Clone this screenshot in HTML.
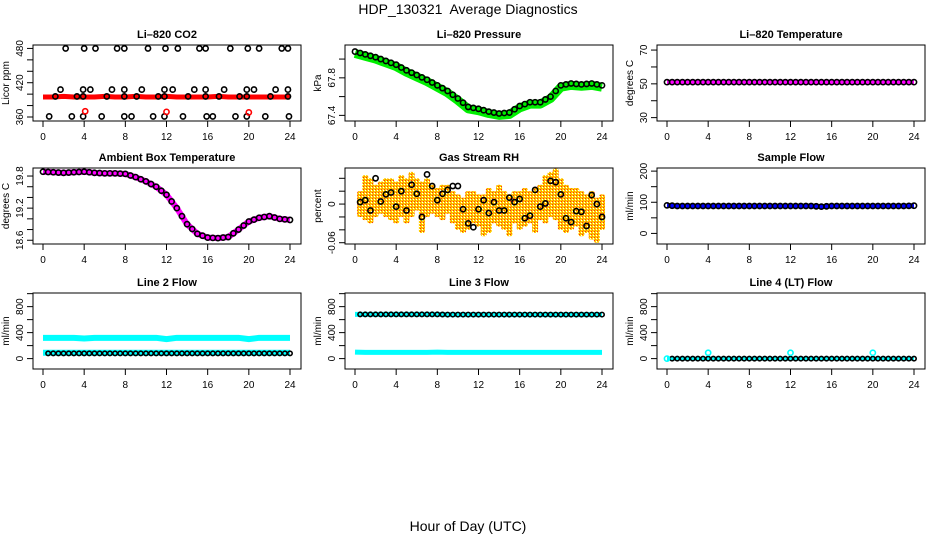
<!DOCTYPE html>
<html><head><meta charset="utf-8"><style>
body{margin:0;background:#fff}
svg{display:block;font-family:"Liberation Sans",Arial,sans-serif}
</style></head><body>
<svg id="c" width="936" height="540" viewBox="0 0 936 540">
<defs>
<pattern id="speck" width="3" height="3" patternUnits="userSpaceOnUse">
<rect width="3" height="3" fill="#ffd000"/>
<rect x="0" y="0" width="1" height="1" fill="#f22"/>
<rect x="2" y="1" width="1" height="1" fill="#fff"/>
<rect x="1" y="2" width="1" height="1" fill="#f80"/>
</pattern>
</defs>
<text x="468" y="14" text-anchor="middle" font-size="14" style="white-space:pre">HDP_130321  Average Diagnostics</text>
<text x="468" y="531" text-anchor="middle" font-size="14">Hour of Day (UTC)</text>
</svg>
<script>
const hours=[0,1,2,3,4,5,6,7,8,9,10,11,12,13,14,15,16,17,18,19,20,21,22,23,24];
const xTicks=[0,4,8,12,16,20,24];
// CO2
const co2TopX=[2.2,4.0,5.1,7.2,7.9,10.2,11.9,13.1,15.2,15.8,18.2,19.9,21.0,23.2,23.8];
const co2MidX=[1.7,3.9,4.6,6.7,7.9,9.6,11.8,12.6,14.7,15.8,17.6,19.8,20.5,22.6,23.8];
const co2LowX=[0.6,2.8,3.9,5.7,7.9,8.6,10.7,11.8,13.6,15.9,16.5,18.7,19.8,21.6,23.9];
const co2BandX=[1.2,3.3,3.9,6.2,7.9,9.1,11.2,11.8,14.1,15.8,17.1,19.1,19.8,22.1,23.8];
const co2RedX=[4.1,12.0,20.0];
const co2Red=[370,369,368];
const co2Band=[395,395,396,395,395,395,396,395,395,396,395,395,396,395,395,395,395,396,395,395,395,395,395,395,395];
// Pressure
const pres=[68.08,68.05,68.02,67.98,67.94,67.88,67.83,67.78,67.72,67.66,67.58,67.49,67.47,67.44,67.42,67.43,67.5,67.54,67.54,67.6,67.72,67.74,67.73,67.74,67.72];
// Temperature
const temp=[51,51,51,51,51,51,51,51,51,51,51,51,51,51,51,51,51,51,51,51,51,51,51,51,51];
// Ambient
const amb=[19.88,19.87,19.86,19.87,19.88,19.86,19.85,19.85,19.84,19.78,19.7,19.6,19.45,19.2,18.9,18.72,18.65,18.64,18.66,18.8,18.95,19.02,19.05,19.0,18.98];
// RH
const rhX=[0.5,1,1.5,2,2.5,3,3.5,4,4.5,5,5.5,6,6.5,7,7.5,8,8.5,9,9.5,10,10.5,11,11.5,12,12.5,13,13.5,14,14.5,15,15.5,16,16.5,17,17.5,18,18.5,19,19.5,20,20.5,21,21.5,22,22.5,23,23.5,24];
const rhBlack=[0.003,0.006,-0.01,0.04,0.004,0.015,0.018,-0.004,0.02,-0.01,0.03,0.016,-0.02,0.046,0.028,0.006,0.016,0.022,0.028,0.028,-0.008,-0.03,-0.036,-0.008,0.006,-0.014,0.003,-0.01,-0.01,0.01,0.003,0.008,-0.022,-0.018,0.022,-0.004,0.001,0.036,0.034,0.015,-0.022,-0.028,-0.011,-0.012,-0.034,0.014,0.0,-0.02];
const rhOrangeHi=[0.02,0.045,0.04,0.03,0.035,0.04,0.04,0.035,0.045,0.04,0.05,0.04,0.035,0.04,0.03,0.025,0.03,0.03,0.02,0.015,0.01,0.02,0.02,0.015,0.015,0.025,0.02,0.03,0.02,0.015,0.02,0.02,0.025,0.02,0.025,0.03,0.045,0.05,0.055,0.04,0.03,0.025,0.025,0.02,0.015,0.02,0.01,0.015];
const rhOrangeLo=[-0.02,-0.025,-0.03,-0.02,-0.015,-0.02,-0.025,-0.03,-0.02,-0.03,-0.02,-0.01,-0.045,-0.02,-0.015,-0.02,-0.025,-0.015,-0.03,-0.04,-0.045,-0.04,-0.03,-0.035,-0.05,-0.045,-0.03,-0.035,-0.04,-0.05,-0.03,-0.04,-0.035,-0.03,-0.045,-0.025,-0.03,-0.02,-0.025,-0.04,-0.045,-0.04,-0.035,-0.05,-0.045,-0.055,-0.06,-0.04];
// Flows
const sampleFlow=[90,88,88,88,88,88,88,88,88,88,88,88,88,88,88,86,88,88,88,88,88,88,88,88,89];
const l2Cyan=[320,320,320,320,310,320,320,320,320,320,320,320,300,320,320,320,320,320,320,320,300,320,320,320,320];
const l2Black=[80,80,80,80,80,80,80,80,80,80,80,80,80,80,80,80,80,80,80,80,80,80,80,80,80];
const l3Black=[680,680,680,680,680,680,680,680,680,678,678,678,678,678,678,678,678,678,678,678,678,678,678,678,678];
const l3Cyan=[100,95,95,95,95,95,95,95,100,95,95,95,95,95,95,95,95,95,95,95,95,95,95,95,95];
const l4Black=[0,0,0,0,0,0,0,0,0,0,0,0,0,0,0,0,0,0,0,0,0,0,0,0,0];
const l4SpikeX=[4,12,20];
const l4Spike=[90,90,90];

const svg=document.getElementById('c');
const NS='http://www.w3.org/2000/svg';
function mk(t,a,p){const e=document.createElementNS(NS,t);for(const k in a)e.setAttribute(k,a[k]);(p||svg).appendChild(e);return e;}
const colL=[33,345,657], rowT=[45,168,293], W=268, H=76;
function panel(c,r,name,title,ylab,ymin,ymax,ticks,labels){
  const g=mk('g',{});
  
  
  const L=colL[c],T=rowT[r],x0=L+10,x1=L+257;
  const X=h=>x0+(h/24)*(x1-x0);
  const Y=v=>T+H-(v-ymin)/(ymax-ymin)*H;
  const t=mk('text',{x:L+W/2,y:T-7,'text-anchor':'middle','font-size':11,'font-weight':'bold'},g);t.textContent=title;
  
  const b=mk('rect',{x:L,y:T,width:W,height:H,fill:'none',stroke:'#000','stroke-width':1},g);
  
  xTicks.forEach(h=>{mk('line',{x1:X(h),x2:X(h),y1:T+H,y2:T+H+6,stroke:'#000'},g);
    const tx=mk('text',{x:X(h),y:T+H+19,'text-anchor':'middle','font-size':10},g);tx.textContent=h;
    });
  ticks.forEach(v=>{mk('line',{x1:L-6,x2:L,y1:Y(v),y2:Y(v),stroke:'#000'},g);});
  labels.forEach(v=>{const tx=mk('text',{x:L-10,y:Y(v),'text-anchor':'middle','font-size':10,transform:`rotate(-90 ${L-10} ${Y(v)})`},g);tx.textContent=v.toFixed(String(v).includes('.')?String(v).split('.')[1].length:0);
    });
  const yl=mk('text',{x:L-24,y:T+H/2,'text-anchor':'middle','font-size':10,transform:`rotate(-90 ${L-24} ${T+H/2})`},g);yl.textContent=ylab;
  
  return {g,X,Y};
}
function band(p,xs,vs,color,w,nm){const e=mk('polyline',{points:xs.map((h,i)=>p.X(h)+','+p.Y(vs[i])).join(' '),fill:'none',stroke:color,'stroke-width':w,'stroke-linejoin':'round'},p.g);
  }
function pts(p,xs,vs,color,nm,r){const g=mk('g',{},p.g);
  
  xs.forEach((h,i)=>{const e=mk('circle',{cx:p.X(h),cy:p.Y(vs[i]),r:r||2.6,fill:'none',stroke:color,'stroke-width':1.6},g);
    });}
const half=a=>{const o=[];a.forEach((v,i)=>{o.push(v);if(i<a.length-1)o.push((v+a[i+1])/2);});return o;};
const hx=half(hours);

// CO2
let p=panel(0,0,'co2','Li\u2013820 CO2','Licor ppm',353,486,[360,380,400,420,440,460,480],[360,420,480]);
band(p,hours,co2Band,'#f00',5,'co2-red-band');
pts(p,co2TopX,co2TopX.map(()=>480),'#000','co2-high');
pts(p,co2MidX,co2MidX.map(()=>408),'#000','co2-mid');
pts(p,co2LowX,co2LowX.map(()=>361),'#000','co2-low');
pts(p,co2BandX,co2BandX.map(()=>396),'#000','co2-band-black');
pts(p,co2RedX,co2Red,'#f00','co2-red-outliers');
// Pressure
p=panel(1,0,'pressure','Li\u2013820 Pressure','kPa',67.34,68.15,[67.4,67.6,67.8,68.0],[67.4,67.8]);
band(p,hours,pres.map(v=>v-0.02),'#0e0',9,'pressure-green-band');
pts(p,hx,half(pres),'#000','pressure-black');
// Temperature
p=panel(2,0,'temperature','Li\u2013820 Temperature','degrees C',28,73,[30,40,50,60,70],[30,50,70]);
band(p,hours,temp,'#f0f',5,'temperature-magenta-band');
pts(p,hx,half(temp),'#000','temperature-black');
// Ambient
p=panel(0,1,'ambient','Ambient Box Temperature','degrees C',18.53,19.95,[18.6,18.8,19.0,19.2,19.4,19.6,19.8],[18.6,19.2,19.8]);
band(p,hours,amb,'#f0f',6,'ambient-magenta-band');
pts(p,hx,half(amb),'#000','ambient-black');
// RH
p=panel(1,1,'rh','Gas Stream RH','percent',-0.062,0.056,[-0.06,-0.04,-0.02,0,0.02,0.04],[-0.06,0.00]);
{const g=mk('g',{},p.g);
 rhX.forEach((h,i)=>{const top=p.Y(rhOrangeHi[i]),bot=p.Y(rhOrangeLo[i]);
  const e=mk('rect',{x:p.X(h)-3,y:top,width:6,height:bot-top,fill:'url(#speck)',rx:2},g);
  });}
pts(p,rhX,rhBlack,'#000','rh-black');
// Sample flow
p=panel(2,1,'sample-flow','Sample Flow','ml/min',-34,210,[0,50,100,150,200],[0,100,200]);
band(p,hours,sampleFlow,'#00f',5,'sample-flow-blue-band');
pts(p,hx,half(sampleFlow),'#000','sample-flow-black');
// Line 2
p=panel(0,2,'line2-flow','Line 2 Flow','ml/min',-160,1010,[0,200,400,600,800,1000],[0,400,800]);
band(p,hours,l2Cyan,'#0ff',6,'line2-cyan-band');
band(p,hours,l2Black.map(v=>v+10),'#0ff',6,'line2-cyan-low-band');
pts(p,hx.slice(1),half(l2Black).slice(1),'#000','line2-black',2.2);
// Line 3
p=panel(1,2,'line3-flow','Line 3 Flow','ml/min',-160,1010,[0,200,400,600,800,1000],[0,400,800]);
band(p,hours,l3Cyan,'#0ff',5,'line3-cyan-band');
band(p,hours,l3Black,'#0ff',5,'line3-cyan-high-band');
pts(p,hx.slice(1),half(l3Black).slice(1),'#000','line3-black',2.2);
// Line 4
p=panel(2,2,'line4-flow','Line 4 (LT) Flow','ml/min',-160,1010,[0,200,400,600,800,1000],[0,400,800]);
band(p,hours,l4Black,'#0ff',4,'line4-cyan-band');
pts(p,hx.slice(1),half(l4Black).slice(1),'#000','line4-black',2.2);
pts(p,l4SpikeX,l4Spike,'#0ff','line4-cyan-spikes');
pts(p,[0],[0],'#0ff','line4-cyan-start');
</script>
</body></html>
